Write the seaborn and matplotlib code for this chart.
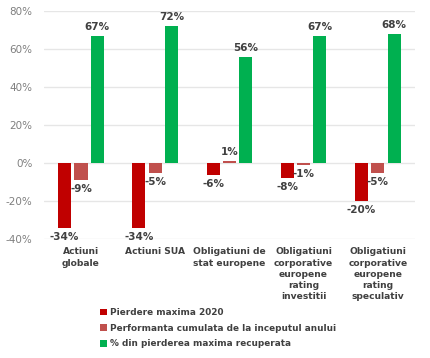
import matplotlib
matplotlib.use("Agg")
import matplotlib.pyplot as plt
import seaborn as sns
import pandas as pd
from matplotlib.patches import Patch

categories = ["Actiuni\nglobale", "Actiuni SUA", "Obligatiuni de\nstat europene",
              "Obligatiuni\ncorporative\neuropene\nrating\ninvestitii",
              "Obligatiuni\ncorporative\neuropene\nrating\nspeculativ"]
series = ["Pierdere maxima 2020",
          "Performanta cumulata de la inceputul anului",
          "% din pierderea maxima recuperata"]
pierdere = [-34, -34, -6, -8, -20]
performanta = [-9, -5, 1, -1, -5]
recuperata = [67, 72, 56, 67, 68]
colors = ["#C00000", "#C0504D", "#00B050"]
yticks = [-40, -20, 0, 20, 40, 60, 80]

rows = []
for s, vals in zip(series, [pierdere, performanta, recuperata]):
    for c, v in zip(categories, vals):
        rows.append({"cat": c, "serie": s, "val": v})
df = pd.DataFrame(rows)

sns.set_style("white")
plt.rcParams['font.family'] = ['DejaVu Sans']
fig = plt.figure(figsize=(4.30, 3.58), dpi=100)
ax = fig.add_axes([0.102, 0.332, 0.863, 0.637])

sns.barplot(data=df, x="cat", y="val", hue="serie", order=categories,
            hue_order=series, palette=colors, width=0.66, gap=0.2,
            ax=ax, legend=False, errorbar=None, saturation=1, linewidth=0)

ax.set_ylim(-40, 80)
ax.set_xlim(-0.5, 4.5)
ax.set_yticks(yticks)
ax.set_yticklabels([f"{t}%" for t in yticks], color="#7f7f7f", fontsize=7.5)
ax.tick_params(axis="y", length=0, pad=8)
ax.tick_params(axis="x", length=0, pad=6)
ax.set_xticks(range(len(categories)))
ax.set_xticklabels(categories, fontsize=6.6, color="#404040", fontweight="bold",
                   linespacing=1.3, va="top")
ax.yaxis.grid(True, color="#e6e6e6", linewidth=1)
ax.set_axisbelow(True)
for sp in ax.spines.values():
    sp.set_visible(False)
ax.set_xlabel("")
ax.set_ylabel("")

for cont in ax.containers:
    for bar in cont:
        h = bar.get_height()
        xc = bar.get_x() + bar.get_width() / 2
        if h >= 0:
            ax.annotate(f"{h:.0f}%", (xc, bar.get_y() + h), xytext=(0, 3),
                        textcoords="offset points", ha="center", va="bottom",
                        fontsize=7.5, fontweight="bold", color="#404040")
        else:
            y = min(bar.get_y(), bar.get_y() + h)
            ax.annotate(f"{h:.0f}%", (xc, y), xytext=(0, -3),
                        textcoords="offset points", ha="center", va="top",
                        fontsize=7.5, fontweight="bold", color="#404040")

handles = [Patch(facecolor=c, edgecolor="none") for c in colors]
fig.legend(handles, series, loc="upper left", bbox_to_anchor=(0.213, 0.162),
           frameon=False, handlelength=0.8, handleheight=0.8,
           handletextpad=0.4, labelspacing=0.75, labelcolor="#404040",
           prop={"weight": "bold", "size": 6.4})

fig.savefig("out.png", dpi=100)
